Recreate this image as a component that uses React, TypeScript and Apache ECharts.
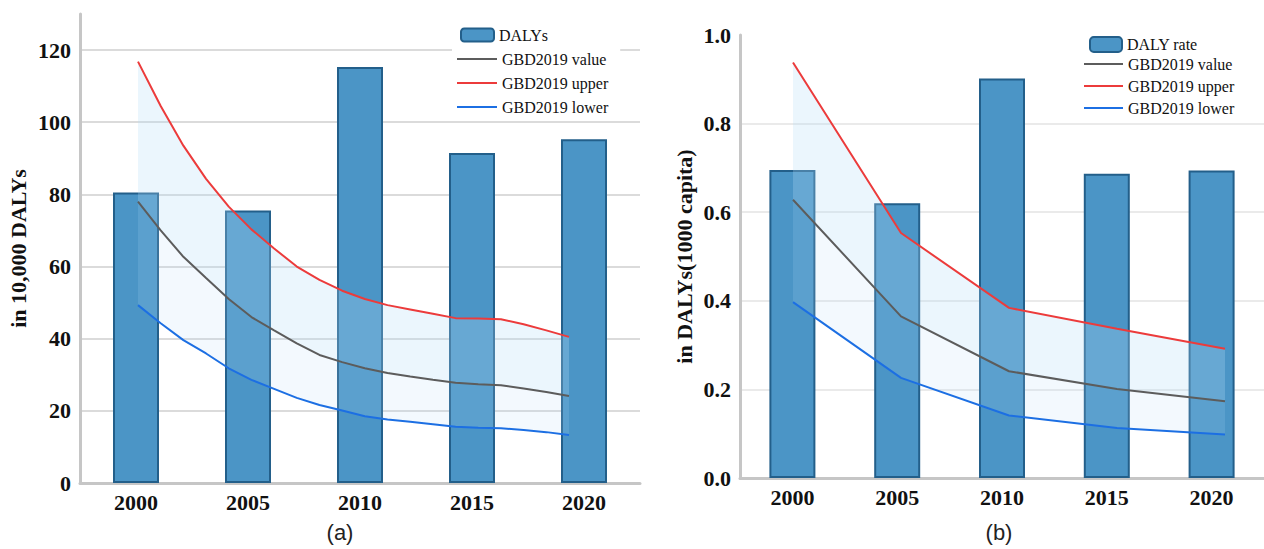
import React, { useEffect, useRef } from "react";
import * as echarts from "echarts";

// ---- data ----
const barYears = ["2000", "2005", "2010", "2015", "2020"];
const dalys = [80.5, 75.5, 115.3, 91.5, 95.3];
const dalyRate = [0.695, 0.62, 0.902, 0.687, 0.694];

const gbdYearsA = [
  "2000", "2001", "2002", "2003", "2004", "2005", "2006", "2007", "2008", "2009",
  "2010", "2011", "2012", "2013", "2014", "2015", "2016", "2017", "2018", "2019",
];
const gbdValueA = [78, 70, 62.7, 56.8, 51, 46, 42.3, 38.7, 35.5, 33.5, 31.8, 30.5, 29.5, 28.6, 27.8, 27.4, 27.1, 26.2, 25.2, 24.1];
const gbdUpperA = [116.8, 104.5, 93.5, 84.3, 76.6, 70.3, 65, 60, 56.3, 53.3, 51, 49.3, 48.1, 46.9, 45.7, 45.6, 45.4, 44, 42.3, 40.5];
const gbdLowerA = [49.3, 44.3, 39.6, 35.9, 31.8, 28.6, 26.1, 23.6, 21.6, 20.1, 18.5, 17.6, 17.0, 16.3, 15.6, 15.3, 15.2, 14.7, 14.1, 13.3];

const gbdYearsB = ["2000", "2005", "2010", "2015", "2020"];
const gbdValueB = [0.628, 0.365, 0.241, 0.201, 0.173];
const gbdUpperB = [0.938, 0.553, 0.384, 0.337, 0.292];
const gbdLowerB = [0.397, 0.226, 0.141, 0.113, 0.098];

const yTicksA = { min: 0, max: 130, interval: 20 };
const yTicksB = { min: 0, max: 1.0, interval: 0.2 };

// ---- styles ----
const SERIF = "'Liberation Serif', 'Times New Roman', serif";
const SANS = "'Liberation Sans', Arial, sans-serif";
const BAR_FILL = "#4b95c6";
const BAR_BORDER = "#235f8a";
const RED = "#ec3b3b";
const GRAY = "#5c5c5c";
const BLUE = "#1c6fe3";
const BAND_UPPER = "rgba(180,220,247,0.38)";
const BAND_LOWER = "rgba(180,220,247,0.23)";
const AXIS_GRAY = "#c6c6c6";

function diff(a: number[], b: number[]) {
  return a.map((v, i) => +(v - b[i]).toFixed(4));
}

function panelSeries(
  prefix: string,
  barName: string,
  barData: number[],
  barAxis: number,
  lineAxis: number,
  value: number[],
  upper: number[],
  lower: number[]
) {
  const stack = prefix + "band";
  return [
    {
      name: barName,
      type: "bar",
      xAxisIndex: barAxis,
      yAxisIndex: barAxis,
      data: barData,
      barWidth: 46,
      itemStyle: { color: BAR_FILL, borderColor: BAR_BORDER, borderWidth: 2 },
      z: 2,
    },
    {
      name: prefix + "_base",
      type: "line",
      xAxisIndex: lineAxis,
      yAxisIndex: lineAxis,
      data: lower,
      stack,
      symbol: "none",
      lineStyle: { width: 0, opacity: 0 },
      silent: true,
      z: 3,
    },
    {
      name: prefix + "_lowband",
      type: "line",
      xAxisIndex: lineAxis,
      yAxisIndex: lineAxis,
      data: diff(value, lower),
      stack,
      symbol: "none",
      lineStyle: { width: 0, opacity: 0 },
      areaStyle: { color: BAND_LOWER },
      silent: true,
      z: 3,
    },
    {
      name: prefix + "_upband",
      type: "line",
      xAxisIndex: lineAxis,
      yAxisIndex: lineAxis,
      data: diff(upper, value),
      stack,
      symbol: "none",
      lineStyle: { width: 0, opacity: 0 },
      areaStyle: { color: BAND_UPPER },
      silent: true,
      z: 3,
    },
    {
      name: "GBD2019 value",
      type: "line",
      xAxisIndex: lineAxis,
      yAxisIndex: lineAxis,
      data: value,
      symbol: "none",
      lineStyle: { color: GRAY, width: 2 },
      itemStyle: { color: GRAY },
      z: 4,
    },
    {
      name: "GBD2019 upper",
      type: "line",
      xAxisIndex: lineAxis,
      yAxisIndex: lineAxis,
      data: upper,
      symbol: "none",
      lineStyle: { color: RED, width: 2 },
      itemStyle: { color: RED },
      z: 4,
    },
    {
      name: "GBD2019 lower",
      type: "line",
      xAxisIndex: lineAxis,
      yAxisIndex: lineAxis,
      data: lower,
      symbol: "none",
      lineStyle: { color: BLUE, width: 2 },
      itemStyle: { color: BLUE },
      z: 4,
    },
  ];
}

export default function App() {
  const ref = useRef<HTMLDivElement>(null);
  useEffect(() => {
    if (!ref.current) return;
    const chart = echarts.init(ref.current, undefined, { renderer: "svg" });

    const axisLabelStyle = { fontFamily: SERIF, fontWeight: "bold", fontSize: 22, color: "#111" };

    const barX = (grid: number) => ({
      type: "category",
      gridIndex: grid,
      data: barYears,
      boundaryGap: true,
      axisLine: { show: true, lineStyle: { color: AXIS_GRAY, width: 3 } },
      axisTick: { show: false },
      axisLabel: { ...axisLabelStyle, margin: 8 },
      splitLine: { show: false },
    });
    const lineX = (grid: number, data: string[]) => ({
      type: "category",
      gridIndex: grid,
      data,
      boundaryGap: false,
      show: false,
    });

    const lineLegend = (left: number, top: number, width: number, gap: number, pad: number[]) => ({
      orient: "vertical",
      left,
      top,
      padding: pad,
      backgroundColor: "#ffffff",
      icon: "rect",
      itemWidth: width,
      itemHeight: 2,
      itemGap: gap,
      data: ["GBD2019 value", "GBD2019 upper", "GBD2019 lower"],
      textStyle: { fontFamily: SERIF, fontSize: 16, color: "#111", height: 16, lineHeight: 16 },
    });

    const option = {
      animation: false,
      backgroundColor: "#ffffff",
      grid: [
        { left: 80, top: 14, width: 560, height: 469 },
        { left: 138, top: 14, width: 431, height: 469 },
        { left: 740, top: 35, width: 532, height: 443 },
        { left: 793, top: 35, width: 432, height: 443 },
      ],
      xAxis: [barX(0), lineX(1, gbdYearsA), barX(2), lineX(3, gbdYearsB)],
      yAxis: [
        {
          type: "value",
          gridIndex: 0,
          ...yTicksA,
          name: "in 10,000 DALYs",
          nameLocation: "middle",
          nameRotate: 90,
          nameGap: 51,
          nameTextStyle: { fontFamily: SERIF, fontWeight: "bold", fontSize: 22, color: "#111" },
          axisLine: { show: true, lineStyle: { color: AXIS_GRAY, width: 3 } },
          axisTick: { show: false },
          axisLabel: { ...axisLabelStyle, margin: 9, showMaxLabel: false },
          splitLine: { show: true, showMaxLine: false, showMinLine: false, lineStyle: { color: "#cfcfcf", width: 1.5 } },
        },
        { type: "value", gridIndex: 1, ...yTicksA, show: false, splitLine: { show: false } },
        {
          type: "value",
          gridIndex: 2,
          ...yTicksB,
          name: "in DALYs(1000 capita)",
          nameLocation: "middle",
          nameRotate: 90,
          nameGap: 45,
          nameTextStyle: { fontFamily: SERIF, fontWeight: "bold", fontSize: 22, color: "#111" },
          axisLine: { show: true, lineStyle: { color: AXIS_GRAY, width: 3 } },
          axisTick: { show: false },
          axisLabel: {
            ...axisLabelStyle,
            margin: 9,
            formatter: (v: number) => v.toFixed(1),
          },
          splitLine: { show: true, showMaxLine: false, showMinLine: false, lineStyle: { color: "#e3e3e3", width: 1.5 } },
        },
        { type: "value", gridIndex: 3, ...yTicksB, show: false, splitLine: { show: false } },
      ],
      legend: [
        {
          orient: "vertical",
          left: 460,
          top: 27,
          padding: 0,
          itemWidth: 33,
          itemHeight: 13,
          data: ["DALYs"],
          textStyle: { fontFamily: SERIF, fontSize: 16, color: "#111" },
        },
        lineLegend(452, 47, 40, 8, [4, 12, 4, 5]),
        {
          orient: "vertical",
          left: 1089,
          top: 36,
          padding: 0,
          itemWidth: 32,
          itemHeight: 15,
          data: ["DALY rate"],
          textStyle: { fontFamily: SERIF, fontSize: 16, color: "#111" },
        },
        lineLegend(1079, 52, 39, 6, [4, 8, 4, 5]),
      ],
      series: [
        ...panelSeries("a", "DALYs", dalys, 0, 1, gbdValueA, gbdUpperA, gbdLowerA),
        ...panelSeries("b", "DALY rate", dalyRate, 2, 3, gbdValueB, gbdUpperB, gbdLowerB),
      ],
      graphic: [
        {
          type: "text",
          x: 340,
          y: 532,
          style: { text: "(a)", fontFamily: SANS, fontSize: 22, fill: "#222", textAlign: "center", textVerticalAlign: "middle" },
        },
        {
          type: "text",
          x: 999,
          y: 532,
          style: { text: "(b)", fontFamily: SANS, fontSize: 22, fill: "#222", textAlign: "center", textVerticalAlign: "middle" },
        },
      ],
    };

    chart.setOption(option as any);
    return () => chart.dispose();
  }, []);

  return (
    <div
      ref={ref}
      style={{ position: "fixed", left: 0, top: 0, width: 1264, height: 549, background: "#fff" }}
    />
  );
}
